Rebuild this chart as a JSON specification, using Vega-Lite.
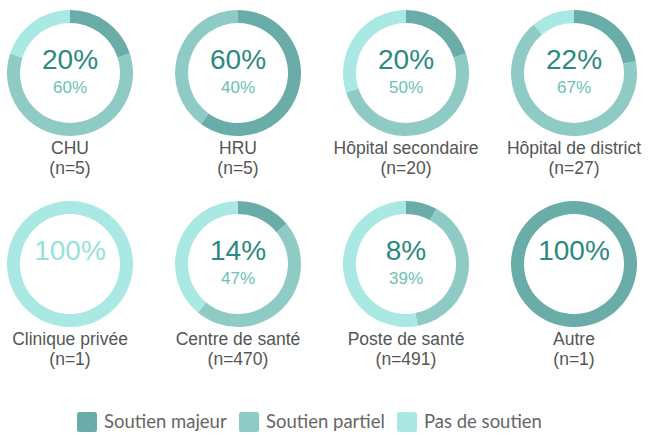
{
  "$schema": "https://vega.github.io/schema/vega-lite/v6.json",
  "background": "white",
  "padding": {"left": 7, "top": 10, "right": 0, "bottom": 0},
  "data": {"values": [
    {"name": "CHU", "n": 5, "cat": "Soutien majeur", "k": 1, "value": 20},
    {"name": "CHU", "n": 5, "cat": "Soutien partiel", "k": 2, "value": 60},
    {"name": "CHU", "n": 5, "cat": "Pas de soutien", "k": 3, "value": 20},
    {"name": "HRU", "n": 5, "cat": "Soutien majeur", "k": 1, "value": 60},
    {"name": "HRU", "n": 5, "cat": "Soutien partiel", "k": 2, "value": 40},
    {"name": "HRU", "n": 5, "cat": "Pas de soutien", "k": 3, "value": 0},
    {"name": "Hôpital secondaire", "n": 20, "cat": "Soutien majeur", "k": 1, "value": 20},
    {"name": "Hôpital secondaire", "n": 20, "cat": "Soutien partiel", "k": 2, "value": 50},
    {"name": "Hôpital secondaire", "n": 20, "cat": "Pas de soutien", "k": 3, "value": 30},
    {"name": "Hôpital de district", "n": 27, "cat": "Soutien majeur", "k": 1, "value": 22},
    {"name": "Hôpital de district", "n": 27, "cat": "Soutien partiel", "k": 2, "value": 67},
    {"name": "Hôpital de district", "n": 27, "cat": "Pas de soutien", "k": 3, "value": 11},
    {"name": "Clinique privée", "n": 1, "cat": "Soutien majeur", "k": 1, "value": 0},
    {"name": "Clinique privée", "n": 1, "cat": "Soutien partiel", "k": 2, "value": 0},
    {"name": "Clinique privée", "n": 1, "cat": "Pas de soutien", "k": 3, "value": 100},
    {"name": "Centre de santé", "n": 470, "cat": "Soutien majeur", "k": 1, "value": 14},
    {"name": "Centre de santé", "n": 470, "cat": "Soutien partiel", "k": 2, "value": 47},
    {"name": "Centre de santé", "n": 470, "cat": "Pas de soutien", "k": 3, "value": 39},
    {"name": "Poste de santé", "n": 491, "cat": "Soutien majeur", "k": 1, "value": 8},
    {"name": "Poste de santé", "n": 491, "cat": "Soutien partiel", "k": 2, "value": 39},
    {"name": "Poste de santé", "n": 491, "cat": "Pas de soutien", "k": 3, "value": 53},
    {"name": "Autre", "n": 1, "cat": "Soutien majeur", "k": 1, "value": 100},
    {"name": "Autre", "n": 1, "cat": "Soutien partiel", "k": 2, "value": 0},
    {"name": "Autre", "n": 1, "cat": "Pas de soutien", "k": 3, "value": 0}
  ]},
  "transform": [
    {"calculate": "datum.value + '%'", "as": "label"},
    {"calculate": "'(n=' + datum.n + ')'", "as": "nlabel"}
  ],
  "facet": {
    "field": "name", "type": "nominal",
    "sort": ["CHU", "HRU", "Hôpital secondaire", "Hôpital de district", "Clinique privée", "Centre de santé", "Poste de santé", "Autre"],
    "title": null,
    "header": {"title": null, "labels": false, "labelExpr": "''", "labelFontSize": 0, "labelPadding": 0, "titlePadding": 0}
  },
  "columns": 4,
  "bounds": "flush",
  "spacing": {"column": 42, "row": 65},
  "spec": {
    "width": 126,
    "height": 126,
    "layer": [
      {
        "mark": {"type": "arc", "outerRadius": 63, "innerRadius": 50},
        "encoding": {
          "theta": {"field": "value", "type": "quantitative", "stack": true},
          "order": {"field": "k", "type": "quantitative"},
          "color": {
            "field": "cat", "type": "nominal",
            "scale": {"domain": ["Soutien majeur", "Soutien partiel", "Pas de soutien"], "range": ["#6aaca7", "#8ecbc5", "#aae8e3"]},
            "legend": {
              "title": null, "orient": "none", "direction": "horizontal",
              "legendX": 70, "legendY": 402,
              "labelFont": "Lato", "labelFontSize": 18.5, "labelColor": "#666666",
              "symbolType": "M-0.75,-1 L0.75,-1 Q1,-1 1,-0.75 L1,0.75 Q1,1 0.75,1 L-0.75,1 Q-1,1 -1,0.75 L-1,-0.75 Q-1,-1 -0.75,-1 Z",
              "symbolSize": 400, "symbolStrokeWidth": 0, "symbolOpacity": 1,
              "columnPadding": 12, "labelOffset": 7
            }
          }
        }
      },
      {
        "transform": [{"filter": "(datum.cat == 'Soutien majeur' && datum.value > 0) || datum.value == 100"}],
        "mark": {"type": "text", "font": "Liberation Sans", "fontSize": 28, "baseline": "alphabetic", "dy": -4.5},
        "encoding": {
          "text": {"field": "label"},
          "color": {"condition": {"test": "datum.cat == 'Pas de soutien'", "value": "#95e2db"}, "value": "#2a8a80"}
        }
      },
      {
        "transform": [{"filter": "datum.cat == 'Soutien partiel' && datum.value > 0"}],
        "mark": {"type": "text", "font": "Liberation Sans", "fontSize": 17, "baseline": "alphabetic", "dy": 19.5, "color": "#6cbfb6"},
        "encoding": {"text": {"field": "label"}}
      },
      {
        "transform": [{"filter": "datum.k == 1"}],
        "mark": {"type": "text", "font": "Liberation Sans", "fontSize": 17.5, "baseline": "alphabetic", "dy": 81, "color": "#555555"},
        "encoding": {"text": {"field": "name"}}
      },
      {
        "transform": [{"filter": "datum.k == 1"}],
        "mark": {"type": "text", "font": "Liberation Sans", "fontSize": 17.5, "baseline": "alphabetic", "dy": 101, "color": "#555555"},
        "encoding": {"text": {"field": "nlabel"}}
      }
    ]
  },
  "config": {
    "view": {"stroke": null},
    "header": {"labels": false, "title": null, "labelPadding": 0, "titlePadding": 0, "labelFontSize": 0},
    "headerFacet": {"labels": false, "title": null, "labelPadding": 0, "titlePadding": 0, "labelFontSize": 0}
  }
}
